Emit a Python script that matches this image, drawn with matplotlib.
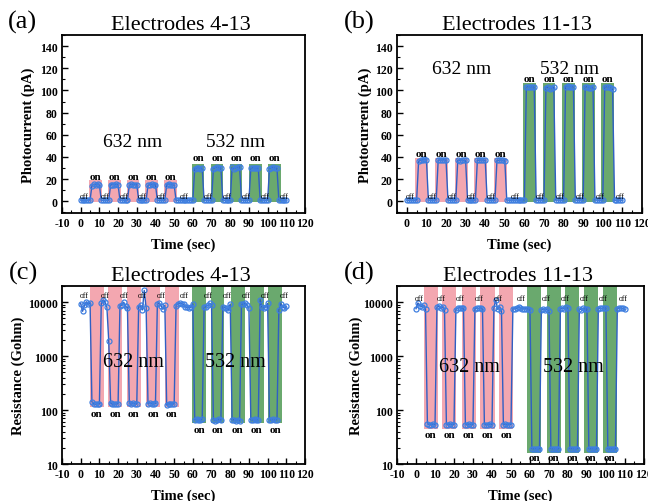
import matplotlib
matplotlib.use("Agg")
import matplotlib.pyplot as plt
from matplotlib.ticker import MultipleLocator, FixedLocator, NullFormatter, LogLocator

plt.rcParams["font.family"] = ["Liberation Serif", "DejaVu Serif"]
plt.rcParams["axes.unicode_minus"] = False

# sampling grid, 1 s steps
TIME_SEC = list(range(0, 111))

PHOTO_4_13 = [
    1.2, 1.0, 1.1, 1.0, 1.2, 1.1,
    14.2, 15.3, 15.0, 15.2, 14.8,
    1.1, 1.0, 1.2, 1.0, 1.1,
    14.8, 15.1, 15.0, 15.3, 14.9,
    1.0, 1.2, 1.1, 1.0, 1.2,
    14.5, 15.2, 14.9, 15.1, 15.0,
    1.1, 1.0, 1.2, 1.1, 1.0,
    14.6, 14.9, 15.2, 14.8, 15.0,
    1.2, 1.0, 1.1, 1.2, 1.0,
    15.0, 15.6, 15.1, 14.8, 14.7,
    1.1, 1.0, 1.2, 1.1, 1.0, 1.2, 1.1, 1.0, 1.2, 1.1,
    29.5, 30.2, 30.0, 29.6, 30.1,
    1.0, 1.2, 1.1, 1.0, 1.2,
    29.4, 30.5, 31.2, 30.0, 30.4,
    1.1, 1.0, 1.2, 1.0, 1.1,
    30.8, 29.3, 30.1, 30.6, 31.0,
    1.2, 1.1, 1.0, 1.2, 1.1,
    29.8, 30.3, 30.1, 29.9, 30.2,
    1.0, 1.1, 1.2, 1.0, 1.1,
    29.6, 30.4, 30.8, 30.0, 29.7,
    1.1, 1.2, 1.0, 1.1, 1.2,
]

PHOTO_11_13 = [
    1.2, 1.0, 1.3, 1.1, 1.0, 1.2,
    36.0, 37.2, 37.5, 37.8, 37.3,
    1.1, 1.2, 1.0, 1.1, 1.3,
    37.0, 37.4, 37.2, 37.6, 37.1,
    1.2, 1.0, 1.1, 1.3, 1.0,
    37.3, 36.8, 37.5, 37.0, 36.9,
    1.0, 1.2, 1.1, 1.0, 1.2,
    37.2, 37.0, 37.4, 37.1, 37.0,
    1.1, 1.3, 1.0, 1.2, 1.1,
    37.1, 36.9, 37.3, 37.0, 36.8,
    1.2, 1.1, 1.0, 1.2, 1.1, 1.3, 1.0, 1.1, 1.2, 1.0,
    103.0, 103.5, 102.8, 103.2, 102.9,
    1.1, 1.0, 1.2, 1.1, 1.3,
    102.5, 103.0, 101.0, 102.0, 103.2,
    1.0, 1.2, 1.1, 1.0, 1.2,
    103.1, 103.8, 103.5, 103.0, 103.4,
    1.2, 1.0, 1.1, 1.3, 1.0,
    103.5, 103.0, 102.6, 102.2, 103.3,
    1.1, 1.2, 1.0, 1.1, 1.2,
    103.0, 103.2, 102.9, 102.5, 101.0,
    1.0, 1.1, 1.2, 1.0, 1.1,
]

RES_4_13 = [
    9400, 6800, 8700, 10200, 9200, 9800,
    142, 130, 128, 131, 129,
    9500, 11000, 10200, 8200, 1900,
    135, 128, 130, 129, 131,
    8600, 8900, 10000, 8400, 7900,
    133, 128, 136, 130, 129,
    8300, 8700, 7200, 16500, 7800,
    131, 137, 132, 129, 133,
    9200, 9500, 8600, 7400, 8800,
    124, 131, 130, 129, 130,
    8600, 9300, 9500, 9400, 9200, 8200, 8000, 7900, 8100, 9300,
    66, 67, 65, 66, 67,
    8000, 8300, 8700, 9500, 8800,
    66, 64, 65, 67, 65,
    8200, 7900, 7800, 7200, 9300,
    65, 66, 64, 66, 63,
    9300, 9100, 9600, 8700, 7800,
    66, 65, 67, 66, 65,
    11200, 8000, 7900, 8200, 9500,
    66, 65, 67, 65, 66,
    7200, 9400, 8200, 7800, 8400,
]

RES_11_13 = [
    7600, 9700, 8600, 8200, 8800, 7500,
    56, 54, 53, 55, 53,
    8000, 8500, 7800, 8100, 7200,
    54, 53, 55, 53, 54,
    7300, 7800, 7900, 7700, 7800,
    54, 53, 55, 54, 53,
    7600, 7800, 7700, 7900, 7500,
    54, 53, 54, 55, 53,
    7800, 11000, 7400, 8200, 6900,
    54, 55, 53, 54, 54,
    7600, 7500, 7700, 8000, 7800, 7600, 7500, 7600, 7400, 7200,
    19.2, 19.0, 19.3, 18.9, 19.1,
    7200, 7500, 7100, 7400, 6900,
    19.2, 19.0, 18.9, 19.1, 19.0,
    7400, 7800, 7600, 8000, 7700,
    19.1, 19.3, 19.0, 18.9, 19.2,
    7500, 7300, 7700, 7400, 7600,
    19.0, 19.2, 19.1, 19.0, 18.9,
    7600, 7800, 7700, 7900, 7800,
    19.1, 19.0, 19.2, 19.0, 19.1,
    7500, 7900, 7800, 7700, 7400,
]

# light-on windows (sec)
RED_BANDS_A = [(4.6, 11.4), (14.5, 21.3), (24.6, 31.4), (34.6, 41.4), (44.6, 51.4)]
GREEN_BANDS_A = [(59.6, 66.2), (69.6, 76.3), (79.8, 86.4), (90.0, 96.8), (100.2, 107.0)]
RED_BANDS_B = [(4.3, 10.7), (14.5, 20.8), (24.4, 31.0), (34.4, 40.9), (44.3, 51.1)]
GREEN_BANDS_B = [(59.3, 65.8), (69.3, 75.8), (79.2, 86.0), (89.4, 95.9), (99.1, 105.6)]
RED_BANDS_C = [(4.8, 12.3), (14.6, 22.1), (24.8, 32.0), (35.0, 42.3), (45.0, 52.5)]
GREEN_BANDS_C = [(59.6, 67.1), (69.8, 76.6), (80.2, 87.7), (90.5, 98.0), (100.4, 107.9)]
RED_BANDS_D = [(4.1, 11.5), (13.8, 21.2), (24.2, 31.4), (33.9, 41.5), (43.8, 51.2)]
GREEN_BANDS_D = [(58.6, 65.7), (68.8, 76.2), (78.5, 85.9), (88.2, 95.6), (98.3, 105.9)]

OFF_LABEL_X = [1.8, 13.0, 23.0, 33.0, 43.3, 55.5, 68.3, 78.5, 88.5, 98.7, 109.0]

PINK = "#f3a7b0"
GREEN = "#6aa96e"
LINE = "#2f5fc4"
MARK = "#3f7fe0"


def shade(ax, bands, y0, y1, color):
    for x0, x1 in bands:
        ax.fill_between([x0, x1], y0, y1, color=color, lw=0, zorder=1)


def style_axis(ax, xlim, xticks):
    ax.set_xlim(*xlim)
    ax.xaxis.set_major_locator(FixedLocator(xticks))
    ax.xaxis.set_minor_locator(MultipleLocator(5))
    ax.tick_params(which="both", direction="in", top=False, right=False, labelsize=8.5, pad=3)
    ax.tick_params(which="major", length=4, width=1.0)
    ax.tick_params(which="minor", length=2, width=0.8)
    for lab in ax.get_xticklabels() + ax.get_yticklabels():
        lab.set_fontweight("bold")
    for sp in ax.spines.values():
        sp.set_linewidth(1.3)
    ax.set_xlabel("Time (sec)", fontsize=10.5, fontweight="bold", va="center")
    ax.xaxis.set_label_coords(0.5, -0.175)


def draw_trace(ax, values):
    ax.plot(TIME_SEC, values, color=LINE, lw=1.0, zorder=3,
            marker="o", ms=3.6, mfc="none", mec=MARK, mew=0.9)


def photo_panel(ax, values, red, green, red_top, green_top, red_on_y, green_on_y, nm_y, xlim):
    shade(ax, red, -0.8, red_top, PINK)
    shade(ax, green, -0.8, green_top, GREEN)
    draw_trace(ax, values)
    ax.set_ylim(-10.5, 150)
    ax.yaxis.set_major_locator(MultipleLocator(20))
    ax.yaxis.set_minor_locator(MultipleLocator(10))
    ax.set_yticks(range(0, 141, 20))
    for x0, x1 in red:
        ax.text((x0 + x1) / 2, red_on_y, "on", ha="center", va="center", fontsize=8, fontweight="bold", zorder=4)
    for x0, x1 in green:
        ax.text((x0 + x1) / 2, green_on_y, "on", ha="center", va="center", fontsize=8, fontweight="bold", zorder=4)
    for x in OFF_LABEL_X:
        ax.text(x, 5.2, "off", ha="center", va="center", fontsize=5.5, zorder=4)
    ax.text(28, nm_y, "632 nm", ha="center", va="center", fontsize=14, zorder=5)
    ax.text(83, nm_y, "532 nm", ha="center", va="center", fontsize=14, zorder=5)
    ticks = list(range(-10, 121, 10)) if xlim[0] <= -10 else list(range(0, 121, 10))
    style_axis(ax, xlim, ticks)
    ax.set_ylabel("Photocurrent (pA)", fontsize=10.5, fontweight="bold", va="center")


def res_panel(ax, values, red, green, red_bottom, green_bottom, red_on_y, green_on_y, off_y, nm_y):
    shade(ax, red, red_bottom, 20000, PINK)
    shade(ax, green, green_bottom, 20000, GREEN)
    draw_trace(ax, values)
    ax.set_yscale("log")
    ax.set_ylim(10, 20000)
    ax.yaxis.set_major_locator(FixedLocator([10, 100, 1000, 10000]))
    ax.yaxis.set_minor_locator(LogLocator(base=10, subs=range(2, 10)))
    ax.yaxis.set_minor_formatter(NullFormatter())
    ax.set_yticklabels(["10", "100", "1000", "10000"])
    for x0, x1 in red:
        ax.text((x0 + x1) / 2, red_on_y, "on", ha="center", va="center", fontsize=8, fontweight="bold", zorder=4)
    for x0, x1 in green:
        ax.text((x0 + x1) / 2, green_on_y, "on", ha="center", va="center", fontsize=8, fontweight="bold", zorder=4)
    for x in OFF_LABEL_X:
        ax.text(x, off_y, "off", ha="center", va="center", fontsize=5.5, zorder=4)
    ax.text(28, nm_y, "632 nm", ha="center", va="center", fontsize=14.5, zorder=5)
    ax.text(83, nm_y, "532 nm", ha="center", va="center", fontsize=14.5, zorder=5)
    style_axis(ax, (-10, 120), list(range(-10, 121, 10)))
    ax.set_ylabel("Resistance (Gohm)", fontsize=10.5, fontweight="bold", va="center")


def main():
    fig = plt.figure(figsize=(6.48, 5.02), dpi=100)
    ax_a = fig.add_axes([0.0957, 0.5737, 0.375, 0.3546])
    ax_b = fig.add_axes([0.6127, 0.5737, 0.378, 0.3546])
    ax_c = fig.add_axes([0.0957, 0.0737, 0.375, 0.3546])
    ax_d = fig.add_axes([0.6127, 0.0737, 0.381, 0.3546])

    photo_panel(ax_a, PHOTO_4_13, RED_BANDS_A, GREEN_BANDS_A, 19.5, 34, 22, 39.5, 54, (-10, 120))
    photo_panel(ax_b, PHOTO_11_13, RED_BANDS_B, GREEN_BANDS_B, 39.5, 107, 43.5, 111, 120, (-5, 120))
    res_panel(ax_c, RES_4_13, RED_BANDS_C, GREEN_BANDS_C, 113, 57, 87, 43, 13800, 810)
    res_panel(ax_d, RES_11_13, RED_BANDS_D, GREEN_BANDS_D, 45, 16.2, 35, 13.1, 12000, 650)

    ax_a.yaxis.set_label_coords(-0.14, 0.5)
    ax_b.yaxis.set_label_coords(-0.13, 0.5)
    ax_c.yaxis.set_label_coords(-0.18, 0.5)
    ax_d.yaxis.set_label_coords(-0.166, 0.5)

    for ax, title in [(ax_a, "Electrodes 4-13"), (ax_b, "Electrodes 11-13"),
                      (ax_c, "Electrodes 4-13"), (ax_d, "Electrodes 11-13")]:
        ax.text(0.49, 1.06, title, transform=ax.transAxes, ha="center", va="center", fontsize=16)

    for x, y, tag in [(22, 22, "(a)"), (359, 22, "(b)"), (23, 273, "(c)"), (359, 273, "(d)")]:
        fig.text(x / 648, 1 - y / 502, tag, ha="center", va="center", fontsize=19)

    fig.savefig("out.png", dpi=100)
    plt.close(fig)


if __name__ == "__main__":
    main()
